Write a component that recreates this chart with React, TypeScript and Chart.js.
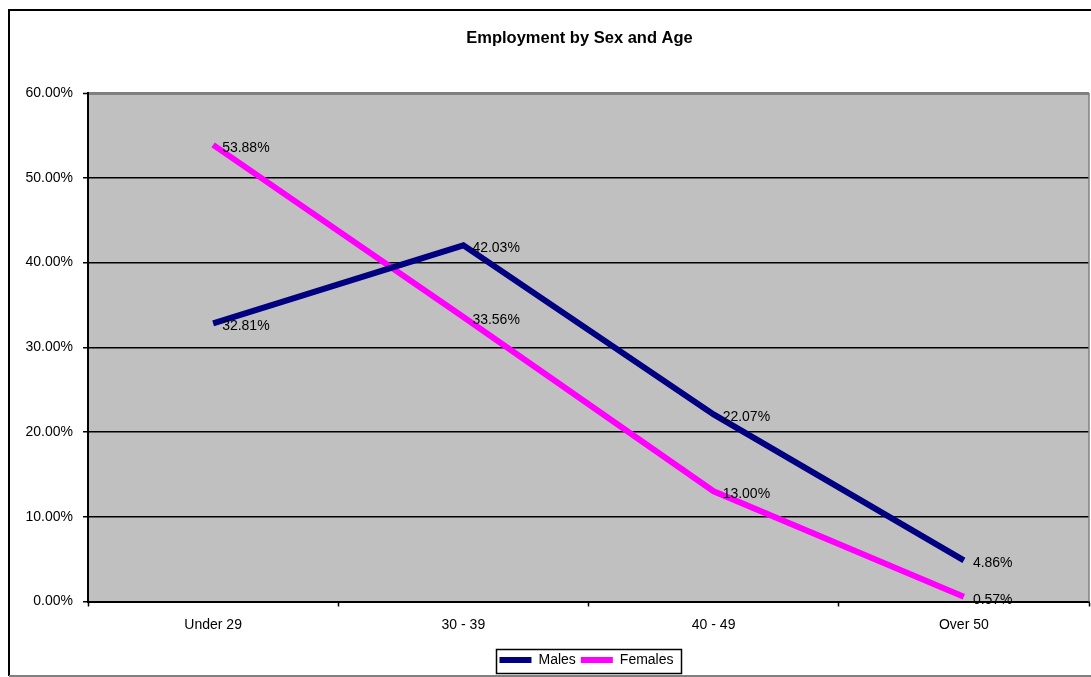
import { useEffect, useRef } from "react";
import { Chart, registerables } from "chart.js";

Chart.register(...registerables);

const FONT = '"Liberation Sans", Arial, sans-serif';
const SMALL = 14;

const categories = ["Under 29", "30 - 39", "40 - 49", "Over 50"];
const malesShare = [32.81, 42.03, 22.07, 4.86];
const femalesShare = [53.88, 33.56, 13.0, 0.57];
const yAxisMin = 0;
const yAxisMax = 60;
const yAxisStep = 10;

const MALE_COLOR = "#000080";
const FEMALE_COLOR = "#FF00FF";
const PLOT_BG = "#C0C0C0";

// title and legend sit further right than the canvas centre
const TITLE_SHIFT = 35;
const LEGEND_SHIFT = 42;

const pct = (v: number) => `${v.toFixed(2)}%`;

// Outer frame and grey plot area behind everything
const framePlugin = {
  id: "frame",
  beforeDraw(chart: any) {
    const { ctx, chartArea, width, height } = chart;
    ctx.save();
    ctx.fillStyle = "#ffffff";
    ctx.fillRect(0, 0, width, height);
    ctx.fillStyle = PLOT_BG;
    ctx.fillRect(chartArea.left, chartArea.top, chartArea.right - chartArea.left, chartArea.bottom - chartArea.top);
    ctx.lineWidth = 2;
    ctx.strokeStyle = "#000000";
    ctx.beginPath();
    ctx.moveTo(width + 5, 10);
    ctx.lineTo(9, 10);
    ctx.lineTo(9, height - 1);
    ctx.stroke();
    ctx.strokeStyle = "#808080";
    ctx.beginPath();
    ctx.moveTo(9, height - 1);
    ctx.lineTo(width + 5, height - 1);
    ctx.stroke();
    ctx.restore();
  },
  afterDraw(chart: any) {
    const { ctx, chartArea } = chart;
    ctx.save();
    ctx.strokeStyle = "#808080";
    ctx.lineWidth = 1.5;
    ctx.beginPath();
    ctx.moveTo(chartArea.right, chartArea.top);
    ctx.lineTo(chartArea.right, chartArea.bottom);
    ctx.stroke();
    ctx.restore();
  },
};

// Percentage labels next to every point
const valueLabelPlugin = {
  id: "valueLabels",
  afterDatasetsDraw(chart: any) {
    const { ctx } = chart;
    ctx.save();
    ctx.font = `${SMALL}px ${FONT}`;
    ctx.fillStyle = "#000000";
    ctx.textAlign = "left";
    ctx.textBaseline = "middle";
    chart.data.datasets.forEach((ds: any, i: number) => {
      const meta = chart.getDatasetMeta(i);
      meta.data.forEach((pt: any, j: number) => {
        ctx.fillText(pct(ds.data[j] as number), pt.x + 9, pt.y + 3);
      });
    });
    ctx.restore();
  },
};

// Moves title and legend sideways and draws a box around the legend entries
const legendBoxPlugin = {
  id: "legendBox",
  afterLayout(chart: any) {
    const title = chart.titleBlock;
    if (title) {
      title.left += TITLE_SHIFT;
      title.right += TITLE_SHIFT;
    }
    const legend = chart.legend;
    if (!legend) return;
    legend.left += LEGEND_SHIFT;
    legend.right += LEGEND_SHIFT;
    (legend.legendHitBoxes || []).forEach((b: any) => {
      b.left += LEGEND_SHIFT;
    });
  },
  afterDraw(chart: any) {
    const legend = chart.legend;
    if (!legend || !legend.legendHitBoxes || !legend.legendHitBoxes.length) return;
    const boxes = legend.legendHitBoxes;
    const left = Math.min(...boxes.map((b: any) => b.left));
    const right = Math.max(...boxes.map((b: any) => b.left + b.width));
    const top = Math.min(...boxes.map((b: any) => b.top));
    const bottom = Math.max(...boxes.map((b: any) => b.top + b.height));
    const cy = (top + bottom) / 2;
    const { ctx } = chart;
    ctx.save();
    ctx.strokeStyle = "#000000";
    ctx.lineWidth = 1.5;
    ctx.strokeRect(Math.round(left - 3) + 0.5, Math.round(cy - 11.5) + 0.5, Math.round(right - left + 11), 24);
    ctx.restore();
  },
};

export default function App() {
  const canvasRef = useRef<HTMLCanvasElement | null>(null);

  useEffect(() => {
    if (!canvasRef.current) return;
    const chart = new Chart(canvasRef.current, {
      type: "line",
      data: {
        labels: categories,
        datasets: [
          {
            label: "Males",
            data: malesShare,
            borderColor: MALE_COLOR,
            backgroundColor: MALE_COLOR,
            borderWidth: 6,
            borderCapStyle: "butt",
            borderJoinStyle: "miter",
            pointRadius: 0,
            tension: 0,
            fill: false,
          },
          {
            label: "Females",
            data: femalesShare,
            borderColor: FEMALE_COLOR,
            backgroundColor: FEMALE_COLOR,
            borderWidth: 6,
            borderCapStyle: "butt",
            borderJoinStyle: "miter",
            pointRadius: 0,
            tension: 0,
            fill: false,
          },
        ],
      },
      options: {
        responsive: false,
        animation: false,
        events: [],
        layout: { padding: { left: 0, right: 2, top: 0, bottom: 0 } },
        scales: {
          x: {
            type: "category",
            offset: true,
            grid: {
              offset: true,
              drawOnChartArea: false,
              drawTicks: true,
              tickLength: 5,
              tickColor: "#000000",
              tickWidth: 1.5,
            },
            border: { display: true, color: "#000000", width: 2 },
            ticks: {
              color: "#000000",
              padding: 10,
              maxRotation: 0,
              autoSkip: false,
              font: { family: FONT, size: SMALL },
            },
            afterFit(scale: any) {
              scale.height = 46.5;
            },
          },
          y: {
            min: yAxisMin,
            max: yAxisMax,
            ticks: {
              stepSize: yAxisStep,
              color: "#000000",
              padding: 10,
              font: { family: FONT, size: SMALL },
              callback: (v: any) => pct(Number(v)),
            },
            grid: {
              color: (c: any) => (c.tick && c.tick.value === yAxisMax ? "#808080" : "#000000"),
              lineWidth: (c: any) => (c.tick && c.tick.value === yAxisMax ? 3 : 1.5),
              drawTicks: true,
              tickLength: 5,
              tickColor: "#000000",
              tickWidth: 1.5,
            },
            border: { display: true, color: "#000000", width: 2 },
            afterFit(scale: any) {
              scale.width = 88;
            },
          },
        },
        plugins: {
          title: {
            display: true,
            text: "Employment by Sex and Age",
            color: "#000000",
            font: { family: FONT, size: 16.5, weight: "bold" },
            padding: { top: 29, bottom: 44.2 },
          },
          legend: {
            display: true,
            position: "bottom",
            labels: {
              color: "#000000",
              font: { family: FONT, size: SMALL },
              boxWidth: 32,
              boxHeight: 6,
              padding: 5,
              generateLabels: (c: any) =>
                c.data.datasets.map((ds: any, i: number) => ({
                  text: ds.label,
                  fillStyle: ds.borderColor,
                  strokeStyle: ds.borderColor,
                  lineWidth: 0,
                  hidden: false,
                  datasetIndex: i,
                  fontColor: "#000000",
                })),
            },
          },
          tooltip: { enabled: false },
        },
      },
      plugins: [framePlugin, valueLabelPlugin, legendBoxPlugin],
    } as any);
    return () => chart.destroy();
  }, []);

  return (
    <div style={{ position: "absolute", left: 0, top: 0, width: 1091, height: 677, background: "#ffffff" }}>
      <canvas ref={canvasRef} width={1091} height={677} style={{ width: 1091, height: 677, display: "block" }} />
    </div>
  );
}
